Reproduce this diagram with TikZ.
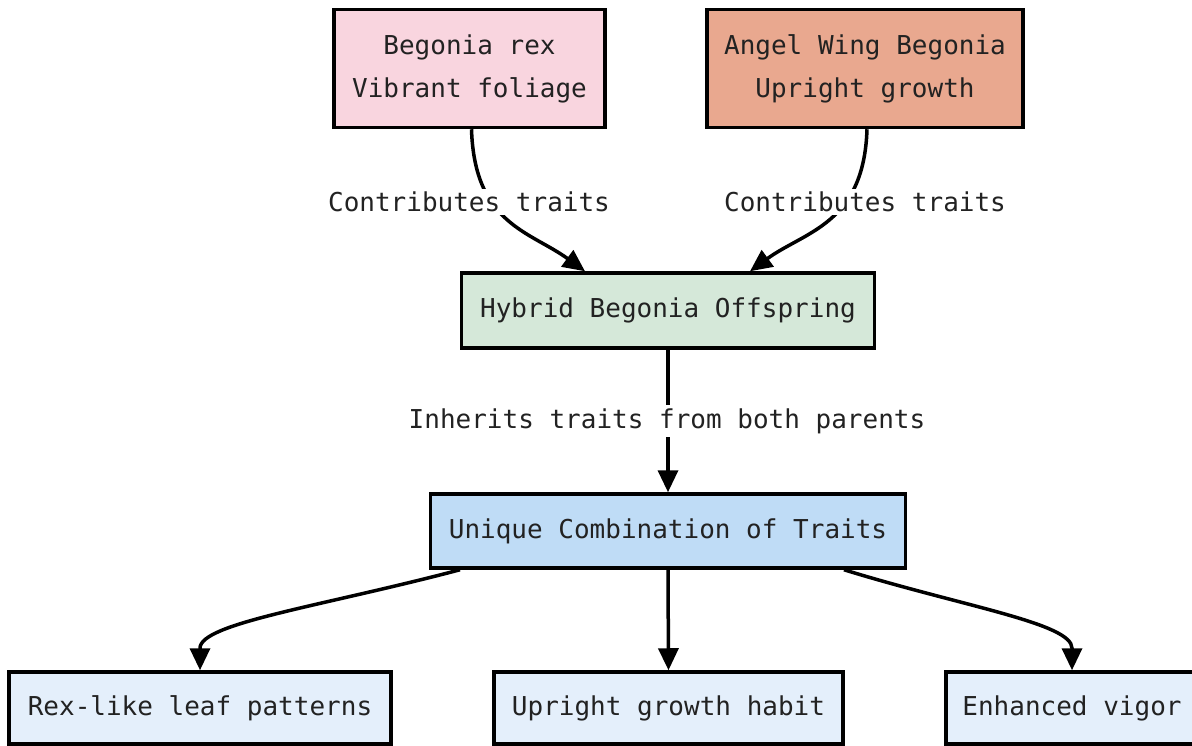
\documentclass[tikz,border=0pt]{standalone}
\usepackage{fontspec}
\newfontfamily\diagmono{DejaVu Sans Mono}
\usetikzlibrary{arrows.meta}
\definecolor{pinkfill}{HTML}{F9D5DF}
\definecolor{salmonfill}{HTML}{E9A88F}
\definecolor{greenfill}{HTML}{D5E8D9}
\definecolor{bluefill}{HTML}{BFDCF6}
\definecolor{lightfill}{HTML}{E4EFFB}
\definecolor{txt}{HTML}{222222}
\tikzset{
  box/.style={draw=black, line width=3.5pt, rectangle, inner sep=0pt, align=center,
    text=txt, font={\diagmono\fontsize{26}{43}\selectfont}},
  lbl/.style={fill=white, inner sep=3pt, text=txt, font={\diagmono\fontsize{26}{31}\selectfont}},
  conn/.style={line width=3.5pt, draw=black, -{Triangle[length=22pt,width=20pt]}},
}
\begin{document}
\begin{tikzpicture}[x=1pt,y=-1pt]
\useasboundingbox (0,0) rectangle (1192,746);
\fill[white] (0,0) rectangle (1192,746);
% nodes
\node[box, fill=pinkfill, minimum width=271pt, minimum height=118pt] (rex) at (469.5,68.5) {Begonia rex\\Vibrant foliage};
\node[box, fill=salmonfill, minimum width=316pt, minimum height=118pt] (angel) at (865,68.5) {Angel Wing Begonia\\Upright growth};
\node[box, fill=greenfill, minimum width=413pt, minimum height=75pt] (hyb) at (668,310.5) {Hybrid Begonia Offspring};
\node[box, fill=bluefill, minimum width=475pt, minimum height=74pt] (uni) at (668,531) {Unique Combination of Traits};
\node[box, fill=lightfill, minimum width=382pt, minimum height=72pt] (leaf) at (200,708) {Rex-like leaf patterns};
\node[box, fill=lightfill, minimum width=349pt, minimum height=72pt] (habit) at (668.5,708) {Upright growth habit};
\node[box, fill=lightfill, minimum width=252pt, minimum height=72pt] (vigor) at (1072,708) {Enhanced vigor};
% connector end points
\coordinate (rexS) at ([xshift=2pt]rex.south);
\coordinate (angS) at ([xshift=2pt]angel.south);
\coordinate (hybL) at ([xshift=-83pt]hyb.north);
\coordinate (hybR) at ([xshift=82pt]hyb.north);
\coordinate (uniL) at ([xshift=-208pt]uni.south);
\coordinate (uniR) at ([xshift=176pt]uni.south);
\coordinate (leafB) at ([yshift=22pt]leaf.north);
\coordinate (vigorB) at ([yshift=22pt]vigor.north);
% connectors
\draw[conn] (rexS) .. controls ++(3,95) and ++(-55,-40) .. (hybL);
\draw[conn] (angS) .. controls ++(-3,95) and ++(55,-40) .. (hybR);
\draw[conn] (hyb.south) -- (uni.north);
\draw[conn] (uniL) .. controls ++(-140,37) and ++(0,-25) .. (leafB) -- (leaf.north);
\draw[conn] (uni.south) -- (habit.north);
\draw[conn] (uniR) .. controls ++(120,37) and ++(0,-25) .. (vigorB) -- (vigor.north);
% labels
\node[lbl] (l1) at (469,202) {Contributes traits};
\node[lbl] (l2) at (865,202) {Contributes traits};
\node[lbl] (l3) at (667,421) {Inherits traits from both parents};
\end{tikzpicture}
\end{document}
